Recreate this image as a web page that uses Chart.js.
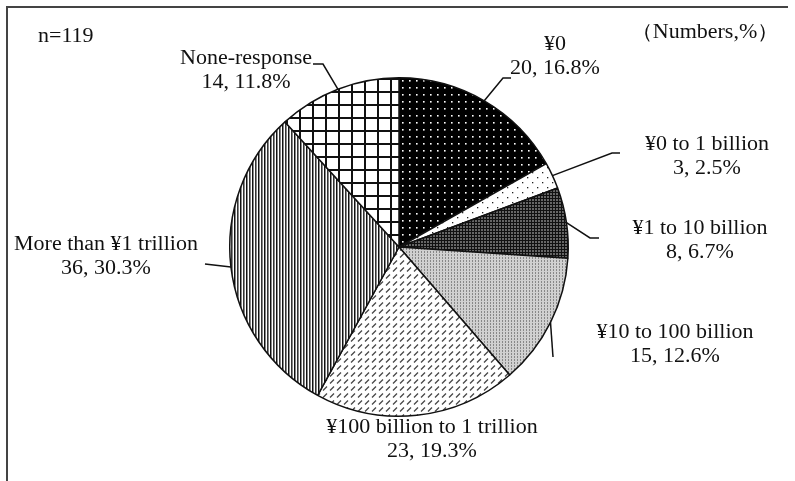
<!DOCTYPE html>
<html><head><meta charset="utf-8">
<script src="https://cdn.jsdelivr.net/npm/chart.js@4"></script>
<style>
html,body{margin:0;padding:0;background:#fff;}
#wrap{position:relative;width:795px;height:481px;}
#frame{position:absolute;left:6px;top:6px;width:782px;height:480px;border-left:2px solid #444;border-top:2px solid #444;box-sizing:border-box;pointer-events:none;}
</style></head>
<body><div id="wrap"><canvas id="c" width="795" height="481"></canvas><div id="frame"></div></div>
<script>
const categories = ["¥0","¥0 to 1 billion","¥1 to 10 billion","¥10 to 100 billion","¥100 billion to 1 trillion","More than ¥1 trillion","None-response"];
const counts = [20,3,8,15,23,36,14];
const percents = [16.8,2.5,6.7,12.6,19.3,30.3,11.8];
const sampleNote = "n=119";
const unitNote = "（Numbers,%）";

function tile(w,h,draw){const c=document.createElement('canvas');c.width=w;c.height=h;const x=c.getContext('2d');draw(x);return document.getElementById('c').getContext('2d').createPattern(c,'repeat');}
const patterns = [
  tile(7,7,x=>{x.fillStyle='#000';x.fillRect(0,0,7,7);x.fillStyle='#fff';x.fillRect(3,3,1.6,1.6);}),
  tile(10,10,x=>{x.fillStyle='#fff';x.fillRect(0,0,10,10);x.fillStyle='#222';x.fillRect(2,2,1.3,1.3);x.fillRect(7,7,1.3,1.3);}),
  tile(3,3,x=>{x.fillStyle='#666';x.fillRect(0,0,3,3);x.fillStyle='#111';x.fillRect(0,0,1,3);x.fillRect(0,0,3,1);}),
  tile(3,3,x=>{x.fillStyle='#d0d0d0';x.fillRect(0,0,3,3);x.fillStyle='#888';x.fillRect(1,0,1,1);x.fillRect(1,2,1,1);}),
  tile(7,7,x=>{x.fillStyle='#fff';x.fillRect(0,0,7,7);x.strokeStyle='#444';x.lineWidth=1.3;x.beginPath();x.moveTo(1,5.5);x.lineTo(5,1.5);x.stroke();}),
  tile(6,4,x=>{x.fillStyle='#fff';x.fillRect(0,0,6,4);x.fillStyle='#111';x.fillRect(0,0,1,4);x.fillStyle='#888';x.fillRect(1,0,1,4);x.fillRect(4,0,1,4);x.fillStyle='#333';x.fillRect(3,0,1,4);}),
  tile(13,13,x=>{x.fillStyle='#fff';x.fillRect(0,0,13,13);x.fillStyle='#111';x.fillRect(0,0,2,13);x.fillRect(0,0,13,2);})
];

// label layout: text center and leader-line elbow/end points
const labelLayout = [
  {cx:555, y:45, line:[[503,78],[511,78]]},
  {cx:707, y:145, line:[[612,153],[620,153]]},
  {cx:700, y:229, line:[[590,238],[599,238]]},
  {cx:675, y:333, line:[[553,357]]},
  {cx:432, y:428, line:null},
  {cx:106, y:245, line:[[205,264]]},
  {cx:246, y:59, line:[[323,64],[313,64]]}
];

function wideText(ctx, s, cx, y, align){
  const sx=1.1; ctx.save(); ctx.translate(cx,y); ctx.scale(sx,1); ctx.textAlign=align; ctx.fillText(s,0,0); ctx.restore();
}

const labelPlugin = {
  id:'labels',
  afterDatasetsDraw(chart){
    const ctx=chart.ctx; const meta=chart.getDatasetMeta(0);
    ctx.save();
    ctx.font='20px "Liberation Serif", "Times New Roman", serif';
    ctx.fillStyle='#111'; ctx.textBaseline='middle';
    meta.data.forEach((arc,i)=>{
      const L=labelLayout[i];
      wideText(ctx, categories[i], L.cx, L.y, 'center');
      wideText(ctx, counts[i]+', '+percents[i].toFixed(1)+'%', L.cx, L.y+24, 'center');
      if(L.line){
        const mid=(arc.startAngle+arc.endAngle)/2;
        const sx=arc.x+Math.cos(mid)*arc.outerRadius, sy=arc.y+Math.sin(mid)*arc.outerRadius;
        ctx.strokeStyle='#111'; ctx.lineWidth=1.5; ctx.beginPath(); ctx.moveTo(sx,sy);
        L.line.forEach(p=>ctx.lineTo(p[0],p[1])); ctx.stroke();
      }
    });
    wideText(ctx, sampleNote, 38, 37, 'left');
    wideText(ctx, unitNote, 705, 33, 'center');
    ctx.restore();
  }
};

new Chart(document.getElementById('c'),{
  type:'pie',
  data:{labels:categories,datasets:[{data:counts,backgroundColor:patterns,borderColor:'#111',borderWidth:1.5}]},
  options:{responsive:false,animation:false,
    layout:{padding:{left:229,right:226,top:77,bottom:64}},
    plugins:{legend:{display:false},tooltip:{enabled:false}}},
  plugins:[labelPlugin]
});
</script></body></html>
